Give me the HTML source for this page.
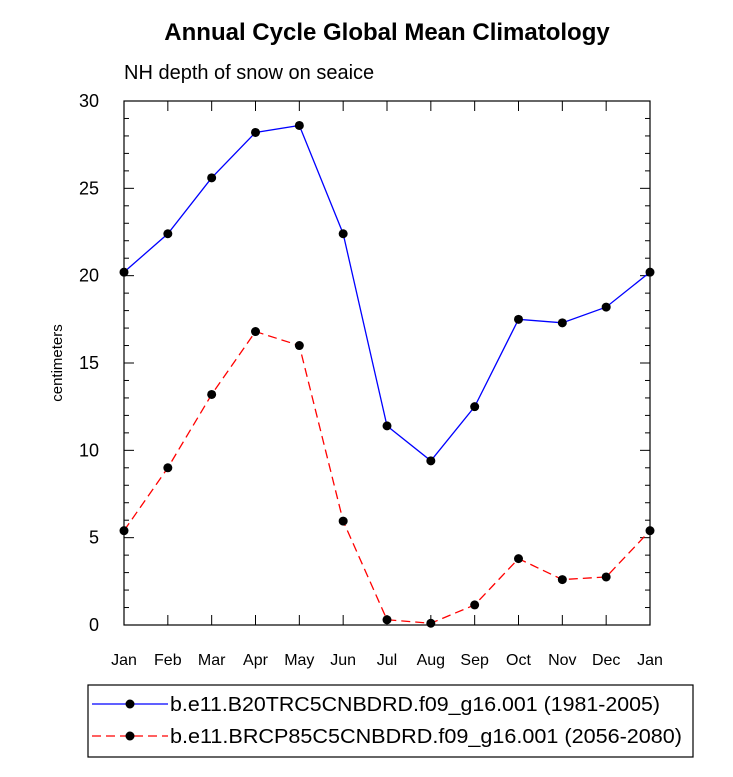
<!DOCTYPE html>
<html><head><meta charset="utf-8"><style>body{margin:0;background:#fff}svg{display:block;font-family:"Liberation Sans",sans-serif}</style></head>
<body>
<svg id="c" width="733" height="777"></svg>
<script>
const months=["Jan","Feb","Mar","Apr","May","Jun","Jul","Aug","Sep","Oct","Nov","Dec","Jan"];
const series1=[20.2,22.4,25.6,28.2,28.6,22.4,11.4,9.4,12.5,17.5,17.3,18.2,20.2];
const series2=[5.4,9.0,13.2,16.8,16.0,5.95,0.3,0.1,1.15,3.8,2.6,2.75,5.4];
const yTicks=[0,5,10,15,20,25,30];
const NS="http://www.w3.org/2000/svg";
const svg=document.getElementById('c');
const L=124,R=650,T=101,B=625;
const x=i=>L+i*(R-L)/12;
const y=v=>B-v*(B-T)/30;
function el(t,a,p){const e=document.createElementNS(NS,t);for(const k in a)e.setAttribute(k,a[k]);(p||svg).appendChild(e);return e;}
let t=el('text',{x:387,y:40,'text-anchor':'middle','font-size':24,'font-weight':'bold'});t.textContent="Annual Cycle Global Mean Climatology";

t=el('text',{x:124,y:79,'font-size':20});t.textContent="NH depth of snow on seaice";

t=el('text',{x:0,y:0,'font-size':15,'text-anchor':'middle',transform:'translate(62,363) rotate(-90)'});t.textContent="centimeters";

let f=el('rect',{x:L,y:T,width:R-L,height:B-T,fill:'none',stroke:'#000','stroke-width':1.2});

for(let v=0;v<=30;v++){const maj=v%5==0,len=maj?10:5;
 el('line',{x1:L,x2:L+len,y1:y(v),y2:y(v),stroke:'#000'});el('line',{x1:R,x2:R-len,y1:y(v),y2:y(v),stroke:'#000'});}
yTicks.forEach(v=>{const e=el('text',{x:99,y:y(v)+6,'text-anchor':'end','font-size':18});e.textContent=v;
 });
months.forEach((m,i)=>{el('line',{x1:x(i),x2:x(i),y1:B,y2:B-10,stroke:'#000'});el('line',{x1:x(i),x2:x(i),y1:T,y2:T+10,stroke:'#000'});
 const e=el('text',{x:x(i),y:B+40,'text-anchor':'middle','font-size':16});e.textContent=m;
 });
function draw(d,col,dash,name){const p=el('polyline',{points:d.map((v,i)=>x(i)+','+y(v)).join(' '),fill:'none',stroke:col,'stroke-width':1.3,'stroke-dasharray':dash});
 
 d.forEach((v,i)=>{const c=el('circle',{cx:x(i),cy:y(v),r:4.5,fill:'#000'});});}
draw(series1,'#0000ff','none','series-1981-2005');
draw(series2,'#ff0000','9,5','series-2056-2080');
const lg=el('g',{});
el('rect',{x:88,y:685,width:605,height:72,fill:'none',stroke:'#000','stroke-width':1.2},lg);
el('line',{x1:92,x2:168,y1:704,y2:704,stroke:'#0000ff','stroke-width':1.3},lg);
el('circle',{cx:130,cy:704,r:4.5},lg);
el('line',{x1:92,x2:168,y1:736,y2:736,stroke:'#ff0000','stroke-width':1.3,'stroke-dasharray':'9,5'},lg);
el('circle',{cx:130,cy:736,r:4.5},lg);
t=el('text',{x:170,y:711,'font-size':20,textLength:490,lengthAdjust:'spacingAndGlyphs'},lg);t.textContent="b.e11.B20TRC5CNBDRD.f09_g16.001 (1981-2005)";

t=el('text',{x:170,y:743,'font-size':20,textLength:512,lengthAdjust:'spacingAndGlyphs'},lg);t.textContent="b.e11.BRCP85C5CNBDRD.f09_g16.001 (2056-2080)";

</script>
</body></html>
